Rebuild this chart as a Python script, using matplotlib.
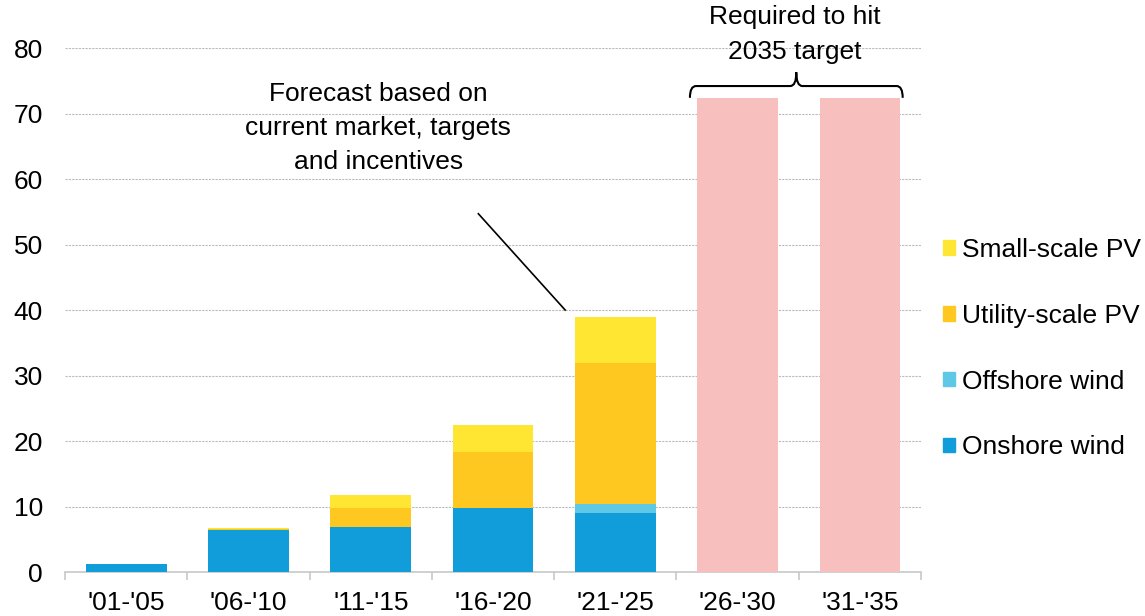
import matplotlib.pyplot as plt
import numpy as np
from matplotlib.path import Path
from matplotlib.patches import PathPatch, Patch

plt.rcParams['font.family'] = ['Liberation Sans', 'DejaVu Sans']

periods = ["'01-'05", "'06-'10", "'11-'15", "'16-'20", "'21-'25", "'26-'30", "'31-'35"]
onshore = [1.3, 6.4, 6.9, 9.7, 9.05, 0, 0]
offshore = [0, 0, 0, 0, 1.4, 0, 0]
utility_pv = [0, 0.1, 2.9, 8.65, 21.5, 0, 0]
small_pv = [0, 0.2, 2.0, 4.05, 7.0, 0, 0]
required = [0, 0, 0, 0, 0, 72.4, 72.4]

c_on = "#109dd9"
c_off = "#5fc8e6"
c_util = "#ffc820"
c_small = "#ffe633"
c_req = "#f7bfbd"

fig = plt.figure(figsize=(11.45, 6.16), dpi=100)
ax = fig.add_axes([0.0568, 0.0714, 0.7476, 0.8506])

x = np.arange(len(periods))
w = 0.66
bottom = np.zeros(len(periods))
for vals, col in [(onshore, c_on), (offshore, c_off), (utility_pv, c_util), (small_pv, c_small)]:
    ax.bar(x, vals, w, bottom=bottom, color=col, zorder=3)
    bottom += np.array(vals)
ax.bar(x, required, w, color=c_req, zorder=3)

ax.set_xlim(-0.5, len(periods) - 0.5)
ax.set_ylim(0, 80)
ax.set_yticks(range(0, 81, 10))
ax.yaxis.grid(True, linestyle=(0, (2, 1)), color="#bbbbbb", linewidth=0.8, zorder=0)
for s in ["left", "right", "top"]:
    ax.spines[s].set_visible(False)
ax.spines["bottom"].set_color("#c8c8c8")
ax.spines["bottom"].set_linewidth(1.2)
ax.tick_params(axis="y", length=0, pad=16, labelsize=19)
ax.set_xticks(x)
ax.set_xticklabels(periods)
ax.set_xticks(np.arange(-0.5, len(periods), 1), minor=True)
ax.tick_params(axis="x", which="major", length=0, pad=14, labelsize=19)
ax.tick_params(axis="x", which="minor", length=6, width=1.2, color="#c8c8c8")

# legend, top entry first
handles = [Patch(color=c_small), Patch(color=c_util), Patch(color=c_off), Patch(color=c_on)]
labels = ["Small-scale PV", "Utility-scale PV", "Offshore wind", "Onshore wind"]
fig.legend(handles, labels, loc="center left", bbox_to_anchor=(0.8236, 0.434),
           frameon=False, fontsize=19, handlelength=0.47, handleheight=0.47,
           handletextpad=0.25, labelspacing=1.58, borderpad=0, borderaxespad=0)

ax.text(2.06, 67.8, "Forecast based on\ncurrent market, targets\nand incentives",
        ha="center", va="center", fontsize=19, linespacing=1.55)
ax.plot([2.88, 3.59], [54.7, 40.0], color="black", linewidth=1.2, zorder=4)

# brace over the target bars
xl, xr, xm = 4.61, 6.35, 5.48
yb, yt, yp = 72.4, 74.2, 76.3
verts = [(xl, yb), (xl, yt), (xl + 0.05, yt), (xm - 0.05, yt), (xm, yt), (xm, yp),
         (xm, yt), (xm + 0.05, yt), (xr - 0.05, yt), (xr, yt), (xr, yb)]
codes = [Path.MOVETO, Path.CURVE3, Path.CURVE3, Path.LINETO, Path.CURVE3, Path.CURVE3,
         Path.CURVE3, Path.CURVE3, Path.LINETO, Path.CURVE3, Path.CURVE3]
ax.add_patch(PathPatch(Path(verts, codes), fill=False, lw=1.5, color="black",
                       clip_on=False, zorder=5))
ax.text(5.47, 82.1, "Required to hit\n2035 target", ha="center", va="center",
        fontsize=19, linespacing=1.55)

fig.savefig("out.png", dpi=100)
